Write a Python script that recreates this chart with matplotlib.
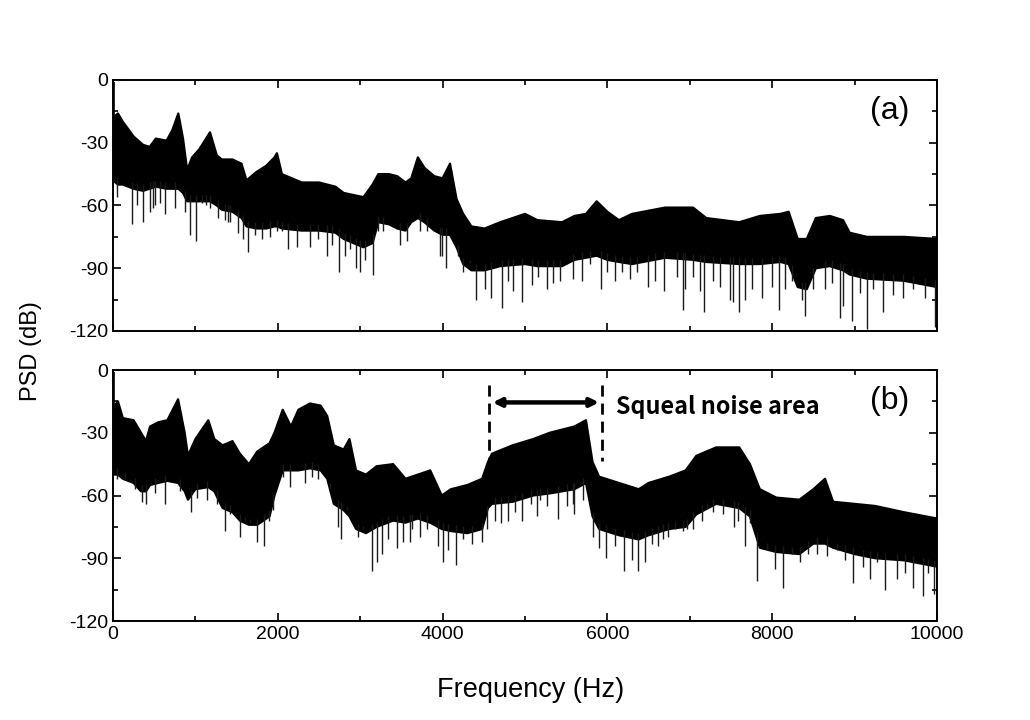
import numpy as np
import matplotlib
matplotlib.use('Agg')
import matplotlib.pyplot as plt
from matplotlib.ticker import MultipleLocator

plt.rcParams['font.family'] = ['Liberation Sans', 'DejaVu Sans']
plt.rcParams['axes.unicode_minus'] = False

# ---- panel (a): envelope of the dense PSD band (Hz, dB)
freq_a = [0, 60, 120, 250, 365, 445, 520, 650, 720, 793, 850, 900, 960, 1050, 1177,
          1260, 1320, 1450, 1560, 1620, 1740, 1860, 1960, 1990, 2050, 2290, 2500, 2700,
          2800, 3040, 3150, 3220, 3350, 3450, 3550, 3620, 3700, 3780, 3900, 4000, 4090,
          4170, 4250, 4350, 4510, 4700, 5000, 5150, 5450, 5600, 5740, 5870, 6000, 6140,
          6300, 6700, 7040, 7200, 7600, 7850, 8100, 8200, 8310, 8420, 8530, 8700, 8860,
          8940, 9150, 9600, 10000]
upper_a = [-18, -16, -20, -27, -31, -32, -28, -29, -24, -16, -28, -43, -37, -33, -25,
           -36, -38, -38, -40, -48, -44, -41, -37, -35, -45, -49, -49, -51,
           -54, -56, -50, -45, -45, -46, -49, -47, -37, -42, -46, -47, -40,
           -57, -64, -70, -71, -68, -64, -67, -68, -65, -64, -58, -63, -67,
           -64, -61, -61, -66, -68, -65, -64, -63, -76, -76, -66, -65, -67,
           -73, -75, -75, -76]
lower_a = [-48, -50, -50, -52, -53, -52, -51, -52, -52, -52, -54, -58, -58, -58, -58,
           -60, -62, -63, -66, -70, -71, -71, -70, -70, -71, -72, -72, -73,
           -76, -80, -78, -68, -69, -71, -72, -68, -66, -68, -72, -74, -74,
           -80, -88, -91, -91, -89, -88, -89, -89, -86, -85, -84, -86, -87,
           -88, -85, -86, -87, -88, -88, -87, -88, -99, -100, -90, -89, -91,
           -93, -95, -96, -99]
spike_f_a = [45, 227, 287, 368, 449, 490, 510, 570, 631, 752, 874, 934, 1007, 1076,
             1129, 1177, 1278, 1359, 1400, 1420, 1521, 1582, 1642, 1723, 1804, 1905,
             1987, 2047, 2128, 2229, 2391, 2492, 2593, 2654, 2747, 2816, 2876, 2949,
             2998, 3058, 3159, 3220, 3281, 3483, 3564, 3726, 3807, 3968, 3989, 4041,
             4191, 4252, 4333, 4402, 4515, 4587, 4717, 4798, 4858, 4960, 5081, 5162,
             5263, 5344, 5425, 5587, 5688, 5789, 5922, 5991, 6092, 6173, 6274, 6355,
             6497, 6578, 6691, 6841, 6914, 6942, 7043, 7124, 7176, 7286, 7367, 7488,
             7528, 7597, 7670, 7751, 7872, 7994, 8087, 8155, 8236, 8357, 8398, 8499,
             8641, 8722, 8823, 8855, 8964, 9066, 9154, 9227, 9349, 9470, 9591, 9712,
             9854, 9976]
spike_db_a = [-56, -69, -60, -68, -63, -61, -60, -59, -64, -61, -63, -74, -77, -59,
              -60, -61, -66, -67, -68, -68, -73, -76, -82, -74, -76, -75,
              -72, -72, -81, -80, -80, -76, -84, -79, -92, -84, -81, -90,
              -92, -86, -93, -72, -72, -79, -77, -72, -72, -84, -84, -90,
              -84, -92, -86, -105, -100, -104, -109, -96, -101, -106, -98, -94,
              -100, -97, -96, -95, -96, -88, -100, -92, -96, -92, -95, -92,
              -99, -96, -101, -94, -110, -100, -94, -101, -111, -96, -99, -105,
              -106, -111, -105, -100, -104, -99, -110, -100, -96, -105, -113, -100,
              -100, -97, -114, -108, -115, -102, -119, -100, -111, -103, -104, -100,
              -104, -118]

# ---- panel (b)
freq_b = [0, 60, 120, 250, 340, 400, 450, 550, 660, 790, 870, 910, 1000, 1157, 1230,
          1330, 1450, 1540, 1650, 1750, 1900, 1960, 2060, 2160, 2250, 2391, 2520, 2600,
          2680, 2800, 2870, 2950, 3070, 3200, 3400, 3550, 3700, 3850, 3990, 4100, 4300,
          4480, 4550, 4600, 4850, 5100, 5300, 5600, 5740, 5820, 5900, 6140, 6380, 6500,
          6750, 6950, 7080, 7320, 7600, 7730, 7850, 8050, 8330, 8500, 8641, 8740, 9000,
          9250, 9600, 10000]
upper_b = [-18, -15, -23, -24, -30, -34, -27, -25, -24, -14, -30, -41, -33, -24, -33,
           -36, -34, -40, -45, -39, -35, -30, -19, -27, -19, -16, -17, -22,
           -36, -38, -33, -48, -50, -46, -45, -52, -50, -48, -60, -57, -55,
           -52, -44, -40, -36, -33, -30, -27, -24, -44, -51, -54, -57, -54,
           -51, -48, -41, -37, -37, -45, -57, -61, -62, -57, -52, -63, -64,
           -65, -68, -71]
lower_b = [-50, -50, -52, -54, -58, -58, -55, -54, -53, -54, -58, -62, -57, -56, -58,
           -66, -68, -72, -74, -74, -70, -60, -48, -48, -48, -47, -48, -52,
           -64, -67, -70, -76, -78, -75, -72, -73, -71, -73, -76, -77, -78,
           -76, -66, -64, -63, -60, -59, -57, -54, -70, -76, -79, -81, -79,
           -76, -75, -69, -64, -66, -70, -85, -87, -88, -83, -83, -85, -88,
           -90, -91, -94]
spike_f_b = [45, 146, 267, 348, 400, 510, 631, 813, 943, 1023, 1137, 1258, 1359, 1420,
             1541, 1602, 1663, 1744, 1833, 1897, 1946, 2067, 2148, 2330, 2411, 2492,
             2633, 2735, 2767, 2836, 2977, 3038, 3139, 3200, 3261, 3341, 3442, 3523,
             3604, 3625, 3726, 3807, 3948, 4009, 4070, 4159, 4252, 4353, 4474, 4535,
             4636, 4709, 4798, 4879, 4960, 5073, 5142, 5182, 5263, 5405, 5506, 5587,
             5599, 5708, 5829, 5902, 5983, 6092, 6205, 6295, 6375, 6456, 6537, 6610,
             6679, 6740, 6820, 6921, 6962, 7043, 7144, 7205, 7286, 7407, 7536, 7589,
             7670, 7731, 7812, 7933, 8034, 8127, 8236, 8337, 8438, 8540, 8661, 8783,
             8883, 8984, 9106, 9187, 9268, 9369, 9511, 9612, 9713, 9834, 9894, 9964]
spike_db_b = [-52, -52, -57, -63, -64, -59, -64, -58, -68, -61, -62, -64, -77, -69,
              -80, -72, -73, -82, -84, -72, -67, -51, -56, -54, -51, -52,
              -57, -75, -81, -67, -80, -76, -96, -92, -88, -81, -85, -82,
              -82, -76, -80, -76, -84, -92, -86, -93, -81, -83, -82, -76,
              -72, -73, -72, -68, -72, -64, -70, -62, -65, -71, -65, -64,
              -69, -62, -80, -85, -90, -84, -96, -91, -96, -92, -83, -84,
              -81, -80, -76, -77, -76, -76, -72, -66, -68, -69, -75, -72,
              -84, -73, -101, -86, -95, -104, -88, -92, -88, -88, -89, -86,
              -91, -102, -94, -100, -92, -105, -100, -97, -104, -108, -97, -107]

dc_peak = -1  # spike at 0 Hz in both panels

# squeal noise band in (b)
squeal_lo, squeal_hi = 4567, 5939


def draw_psd(ax, f, up, lo, sf, sdb):
    f = np.asarray(f, float)
    ax.fill(np.r_[f, f[::-1]], np.r_[up, lo[::-1]], color='black', lw=1.6,
            ec='black', joinstyle='round')
    tops = np.interp(sf, f, lo) + 3
    ax.vlines(sf, sdb, tops, color='#1a1a1a', lw=1.0)
    ax.vlines([12], [lo[0]], [dc_peak], color='black', lw=1.2)


fig = plt.figure(figsize=(10.3, 7.2), dpi=100)
ax1 = fig.add_axes([0.1097, 0.5403, 0.8, 0.3486])
ax2 = fig.add_axes([0.1097, 0.1375, 0.8, 0.3486])

draw_psd(ax1, freq_a, upper_a, lower_a, spike_f_a, spike_db_a)
draw_psd(ax2, freq_b, upper_b, lower_b, spike_f_b, spike_db_b)

for ax in (ax1, ax2):
    ax.set_xlim(0, 10000)
    ax.set_ylim(-120, 0)
    ax.xaxis.set_major_locator(MultipleLocator(2000))
    ax.xaxis.set_minor_locator(MultipleLocator(1000))
    ax.yaxis.set_major_locator(MultipleLocator(30))
    ax.yaxis.set_minor_locator(MultipleLocator(15))
    ax.tick_params(which='both', direction='in', top=True, right=True,
                   width=1.2, labelsize=14)
    ax.tick_params(which='major', length=6)
    ax.tick_params(which='minor', length=3.5)
    for s in ax.spines.values():
        s.set_linewidth(1.4)

ax1.tick_params(labelbottom=False)

ax1.text(9430, -15, '(a)', fontsize=23, ha='center', va='center')
ax2.text(9430, -15, '(b)', fontsize=23, ha='center', va='center')

# squeal annotation
for fx in (squeal_lo, squeal_hi):
    ax2.plot([fx, fx], [-7, -43.5], color='black', lw=2, ls=(0, (4, 2.5)))
ax2.annotate('', xy=(squeal_lo + 40, -15.5), xytext=(squeal_hi - 40, -15.5),
             arrowprops=dict(arrowstyle='<|-|>', lw=3.2, color='black',
                             mutation_scale=12, shrinkA=0, shrinkB=0))
ax2.text(6100, -17.5, 'Squeal noise area', fontsize=16.8, fontweight='bold',
         ha='left', va='center', family=['Noto Sans CJK KR', 'DejaVu Sans'])

fig.text(0.515, 0.042, 'Frequency (Hz)', fontsize=19.5, ha='center', va='center')
fig.text(0.03, 0.513, 'PSD (dB)', fontsize=17, ha='center', va='center',
         rotation=90)

fig.savefig('out.png', dpi=100)
